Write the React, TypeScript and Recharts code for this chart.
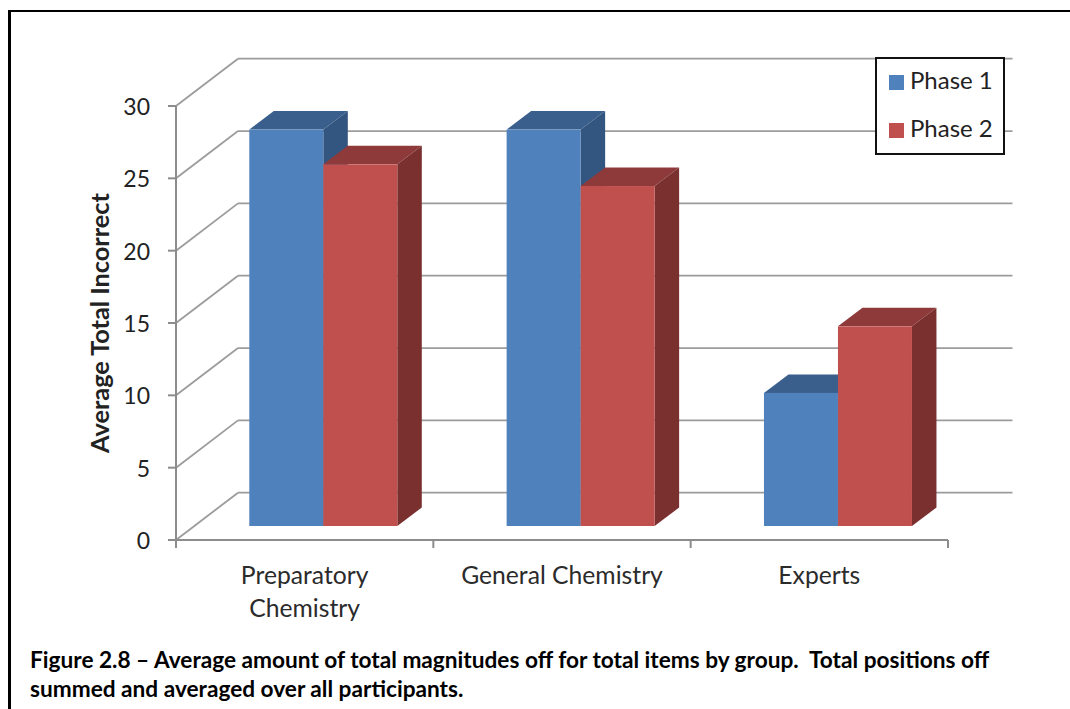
import React from 'react';
import { BarChart, Bar, XAxis, YAxis, CartesianGrid, Legend } from 'recharts';

const categories = ['Preparatory\nChemistry', 'General Chemistry', 'Experts'];
const phase1 = [27.4, 27.4, 9.2];
const phase2 = [25, 23.5, 13.8];
const yTicks = [0, 5, 10, 15, 20, 25, 30];
const caption = [
  'Figure 2.8 \u2013 Average amount of total magnitudes off for total items by group.  Total positions off',
  'summed and averaged over all participants.',
];

const rows = categories.map((name, i) => ({ name, phase1: phase1[i], phase2: phase2[i] }));

const FONT = 'Lato, sans-serif';
const GRID = '#9c9c9c';
const AXIS = '#8c8c8c';
const PLOT_WIDTH = 772;

// wall offset of the pseudo-3D plot, and bar depth
const WALL_DX = 62;
const WALL_DY = -47.3;
const WALL_EXTRA = 64.5;
const BAR_SHIFT_X = 18.3;
const BAR_SHIFT_Y = -14;
const DEPTH_X = 24.5;
const DEPTH_Y = -18.5;

const gridLine = (p: any) => {
  const { x1, x2, y1 } = p;
  return (
    <g key={p.key}>
      <line x1={x1} y1={y1} x2={x1 + WALL_DX} y2={y1 + WALL_DY} stroke={GRID} strokeWidth={1.8} />
      <line x1={x1 + WALL_DX} y1={y1 + WALL_DY} x2={x2 + WALL_EXTRA} y2={y1 + WALL_DY} stroke={GRID} strokeWidth={1.8} />
    </g>
  );
};

const bar3d = (front: string, top: string, side: string) => (p: any) => {
  const x = p.x + BAR_SHIFT_X;
  const y = p.y + BAR_SHIFT_Y;
  const w = p.width;
  const h = p.height;
  return (
    <g>
      <path d={`M${x},${y} L${x + DEPTH_X},${y + DEPTH_Y} L${x + w + DEPTH_X},${y + DEPTH_Y} L${x + w},${y} Z`} fill={top} />
      <path d={`M${x + w},${y} L${x + w + DEPTH_X},${y + DEPTH_Y} L${x + w + DEPTH_X},${y + h + DEPTH_Y} L${x + w},${y + h} Z`} fill={side} />
      <rect x={x} y={y} width={w} height={h} fill={front} />
    </g>
  );
};

// tick marks sit on the category boundaries, labels at the category centres
const categoryTick = (p: any) => {
  const lines = String(p.payload.value).split('\n');
  const half = PLOT_WIDTH / categories.length / 2;
  const axisY = p.y - 8;
  const isLast = p.index === categories.length - 1;
  return (
    <g>
      <line x1={p.x - half} y1={axisY} x2={p.x - half} y2={axisY + 8} stroke={AXIS} strokeWidth={2} />
      {isLast && <line x1={p.x + half} y1={axisY} x2={p.x + half} y2={axisY + 8} stroke={AXIS} strokeWidth={2} />}
      <text x={p.x} y={p.y} textAnchor="middle" fontFamily={FONT} fontSize={24.7} fill="#2b2b2b">
        {lines.map((l: string, i: number) => (
          <tspan key={i} x={p.x} dy={i === 0 ? 36 : 33}>{l}</tspan>
        ))}
      </text>
    </g>
  );
};

const legendContent = () => (
  <div style={{ width: 126, height: 94, border: '2px solid #111', background: '#fff', position: 'relative', fontFamily: FONT, fontSize: 24, color: '#222', boxSizing: 'content-box' }}>
    {[['Phase 1', '#4f81bd', 16], ['Phase 2', '#c0504d', 64]].map(([t, c, top]) => (
      <div key={t as string}>
        <div style={{ position: 'absolute', left: 12, top: top as number, width: 15, height: 15, background: c as string }} />
        <div style={{ position: 'absolute', left: 33, top: (top as number) - 9, lineHeight: '28px', whiteSpace: 'nowrap' }}>{t}</div>
      </div>
    ))}
  </div>
);

export default function App() {
  return (
    <div style={{ position: 'absolute', left: 0, top: 0, width: 1070, height: 709, background: '#fff', overflow: 'hidden' }}>
      <div style={{ position: 'absolute', left: 8, top: 10, width: 1062, height: 699, borderLeft: '3px solid #000', borderTop: '2px solid #000' }} />
      <div style={{ position: 'absolute', left: 0, top: 0 }}>
        <BarChart
          width={1070}
          height={640}
          data={rows}
          margin={{ top: 106, right: 122, bottom: 0, left: 0 }}
          barGap={0}
          barSize={74}
        >
          <CartesianGrid horizontal={gridLine} vertical={false} stroke={GRID} />
          <XAxis
            dataKey="name"
            height={100}
            interval={0}
            tick={categoryTick}
            tickLine={false}
            axisLine={{ stroke: AXIS, strokeWidth: 2 }}
            tickSize={8}
            tickMargin={0}
            scale="band"
          />
          <YAxis
            domain={[0, 30]}
            ticks={yTicks}
            width={176}
            interval={0}
            tick={{ fontFamily: FONT, fontSize: 23, fill: '#222', dy: 1 }}
            tickLine={{ stroke: AXIS, strokeWidth: 2 }}
            axisLine={{ stroke: AXIS, strokeWidth: 2 }}
            tickSize={8}
            tickMargin={18}
            label={{ value: 'Average Total Incorrect', angle: -90, position: 'insideLeft', offset: 0, dx: 100, fontFamily: FONT, fontSize: 25.3, fontWeight: 700, fill: '#222', style: { textAnchor: 'middle' } }}
          />
          <Legend
            layout="horizontal"
            verticalAlign="middle"
            align="center"
            content={legendContent}
            wrapperStyle={{ position: 'absolute', left: 875, top: 57, width: 130, height: 98 }}
          />
          <Bar dataKey="phase1" name="Phase 1" fill="#4f81bd" isAnimationActive={false} shape={bar3d('#4f81bd', '#3a5f8d', '#335680')} />
          <Bar dataKey="phase2" name="Phase 2" fill="#c0504d" isAnimationActive={false} shape={bar3d('#c0504d', '#8f3a3a', '#7b3030')} />
        </BarChart>
      </div>
      <div style={{ position: 'absolute', left: 30, top: 645, fontFamily: FONT, fontWeight: 700, fontSize: 22.65, lineHeight: '29px', color: '#000', whiteSpace: 'pre' }}>
        {caption.map((c) => <div key={c}>{c}</div>)}
      </div>
    </div>
  );
}
